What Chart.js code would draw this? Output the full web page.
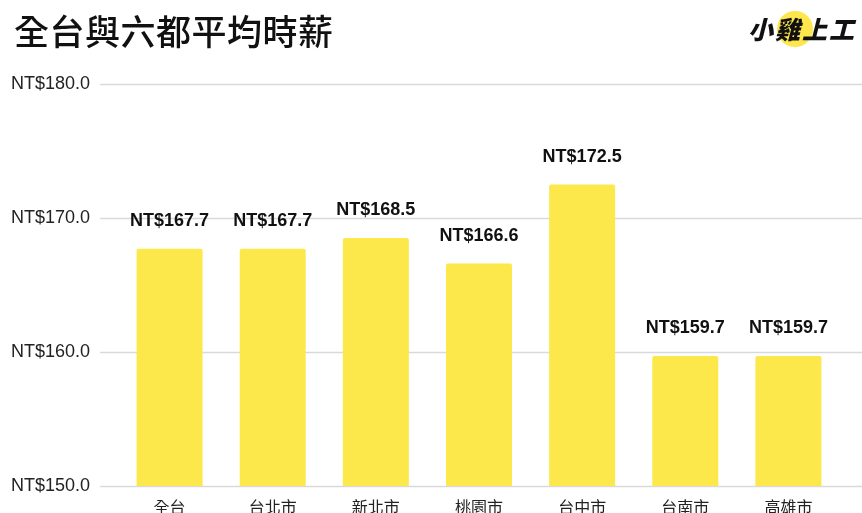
<!DOCTYPE html>
<html>
<head>
<meta charset="utf-8">
<script src="https://cdn.jsdelivr.net/npm/chart.js@4/dist/chart.umd.min.js"></script>
<style>
    html, body { margin: 0; padding: 0; background: #fff; }
    #wrap { position: relative; width: 862px; height: 513px; overflow: hidden; }
    #title {
        position: absolute; left: 14px; top: 12px; line-height: 1;
        font-family: "Noto Sans CJK TC", "Noto Sans", sans-serif;
        font-size: 35px; font-weight: 500; color: #111; letter-spacing: 0.5px;
    }
    #logo {
        position: absolute; left: 748px; top: 8px; height: 40px; width: 114px;
        font-family: "Noto Sans CJK TC", sans-serif; font-weight: 900;
        font-size: 25px; color: #111; line-height: 40px; font-style: italic;
    }
    #logo .dot {
        position: absolute; left: 29px; top: 3px; width: 36px; height: 36px;
        border-radius: 50%; background: #fde74c;
    }
    #logo span.t { position: relative; letter-spacing: 2px; }
    #chart { position: absolute; left: 0; top: 0; }
</style>
</head>
<body>
<div id="wrap">
    <canvas id="chart" width="862" height="513"></canvas>
    <div id="title">全台與六都平均時薪</div>
    <div id="logo"><div class="dot"></div><span class="t">小雞上工</span></div>
</div>
<script>
// data
const cities = ['全台', '台北市', '新北市', '桃園市', '台中市', '台南市', '高雄市'];
const hourlyWage = [167.7, 167.7, 168.5, 166.6, 172.5, 159.7, 159.7];
const yTicks = [150, 160, 170, 180];

const fmt = v => 'NT$' + v.toFixed(1);

// gridlines run past the plot area on both sides
const gridPlugin = {
    id: 'wideGrid',
    beforeDatasetsDraw(chart) {
        const ctx = chart.ctx;
        const y = chart.scales.y;
        ctx.save();
        ctx.strokeStyle = '#d9d9d9';
        ctx.lineWidth = 1.5;
        yTicks.forEach(t => {
            const py = Math.round(y.getPixelForValue(t)) + 0.5;
            ctx.beginPath();
            ctx.moveTo(100, py);
            ctx.lineTo(862, py);
            ctx.stroke();
        });
        ctx.restore();
    }
};

const valuePlugin = {
    id: 'valueLabels',
    afterDatasetsDraw(chart) {
        const ctx = chart.ctx;
        const meta = chart.getDatasetMeta(0);
        ctx.save();
        ctx.font = 'bold 18px "Liberation Sans", Arial, sans-serif';
        ctx.fillStyle = '#111';
        ctx.textAlign = 'center';
        ctx.textBaseline = 'alphabetic';
        meta.data.forEach((bar, i) => {
            ctx.fillText(fmt(hourlyWage[i]), bar.x, bar.y - 23);
        });
        ctx.restore();
    }
};

new Chart(document.getElementById('chart'), {
    type: 'bar',
    data: {
        labels: cities,
        datasets: [{
            data: hourlyWage,
            backgroundColor: '#fde84c',
            borderRadius: { topLeft: 2, topRight: 2 },
            borderSkipped: 'bottom',
            categoryPercentage: 1,
            barPercentage: 0.64
        }]
    },
    options: {
        responsive: false,
        animation: false,
        layout: { padding: { top: 84, right: 22, bottom: 0, left: 0 } },
        plugins: { legend: { display: false }, tooltip: { enabled: false } },
        scales: {
            x: {
                afterFit: s => { s.height = 27; },
                grid: { display: false },
                border: { display: false },
                ticks: {
                    color: '#222', padding: 3,
                    font: { size: 16, family: '"Noto Sans CJK TC", sans-serif' }
                }
            },
            y: {
                min: 150, max: 180,
                afterFit: s => { s.width = 118; s.paddingTop = 0; s.paddingBottom = 0; },
                afterBuildTicks: s => { s.ticks = yTicks.map(v => ({ value: v })); },
                grid: { display: false, drawTicks: false },
                border: { display: false },
                ticks: {
                    color: '#222', padding: 28,
                    font: { size: 18, family: '"Liberation Sans", Arial, sans-serif' },
                    callback: v => fmt(v)
                }
            }
        }
    },
    plugins: [gridPlugin, valuePlugin]
});
</script>
</body>
</html>
